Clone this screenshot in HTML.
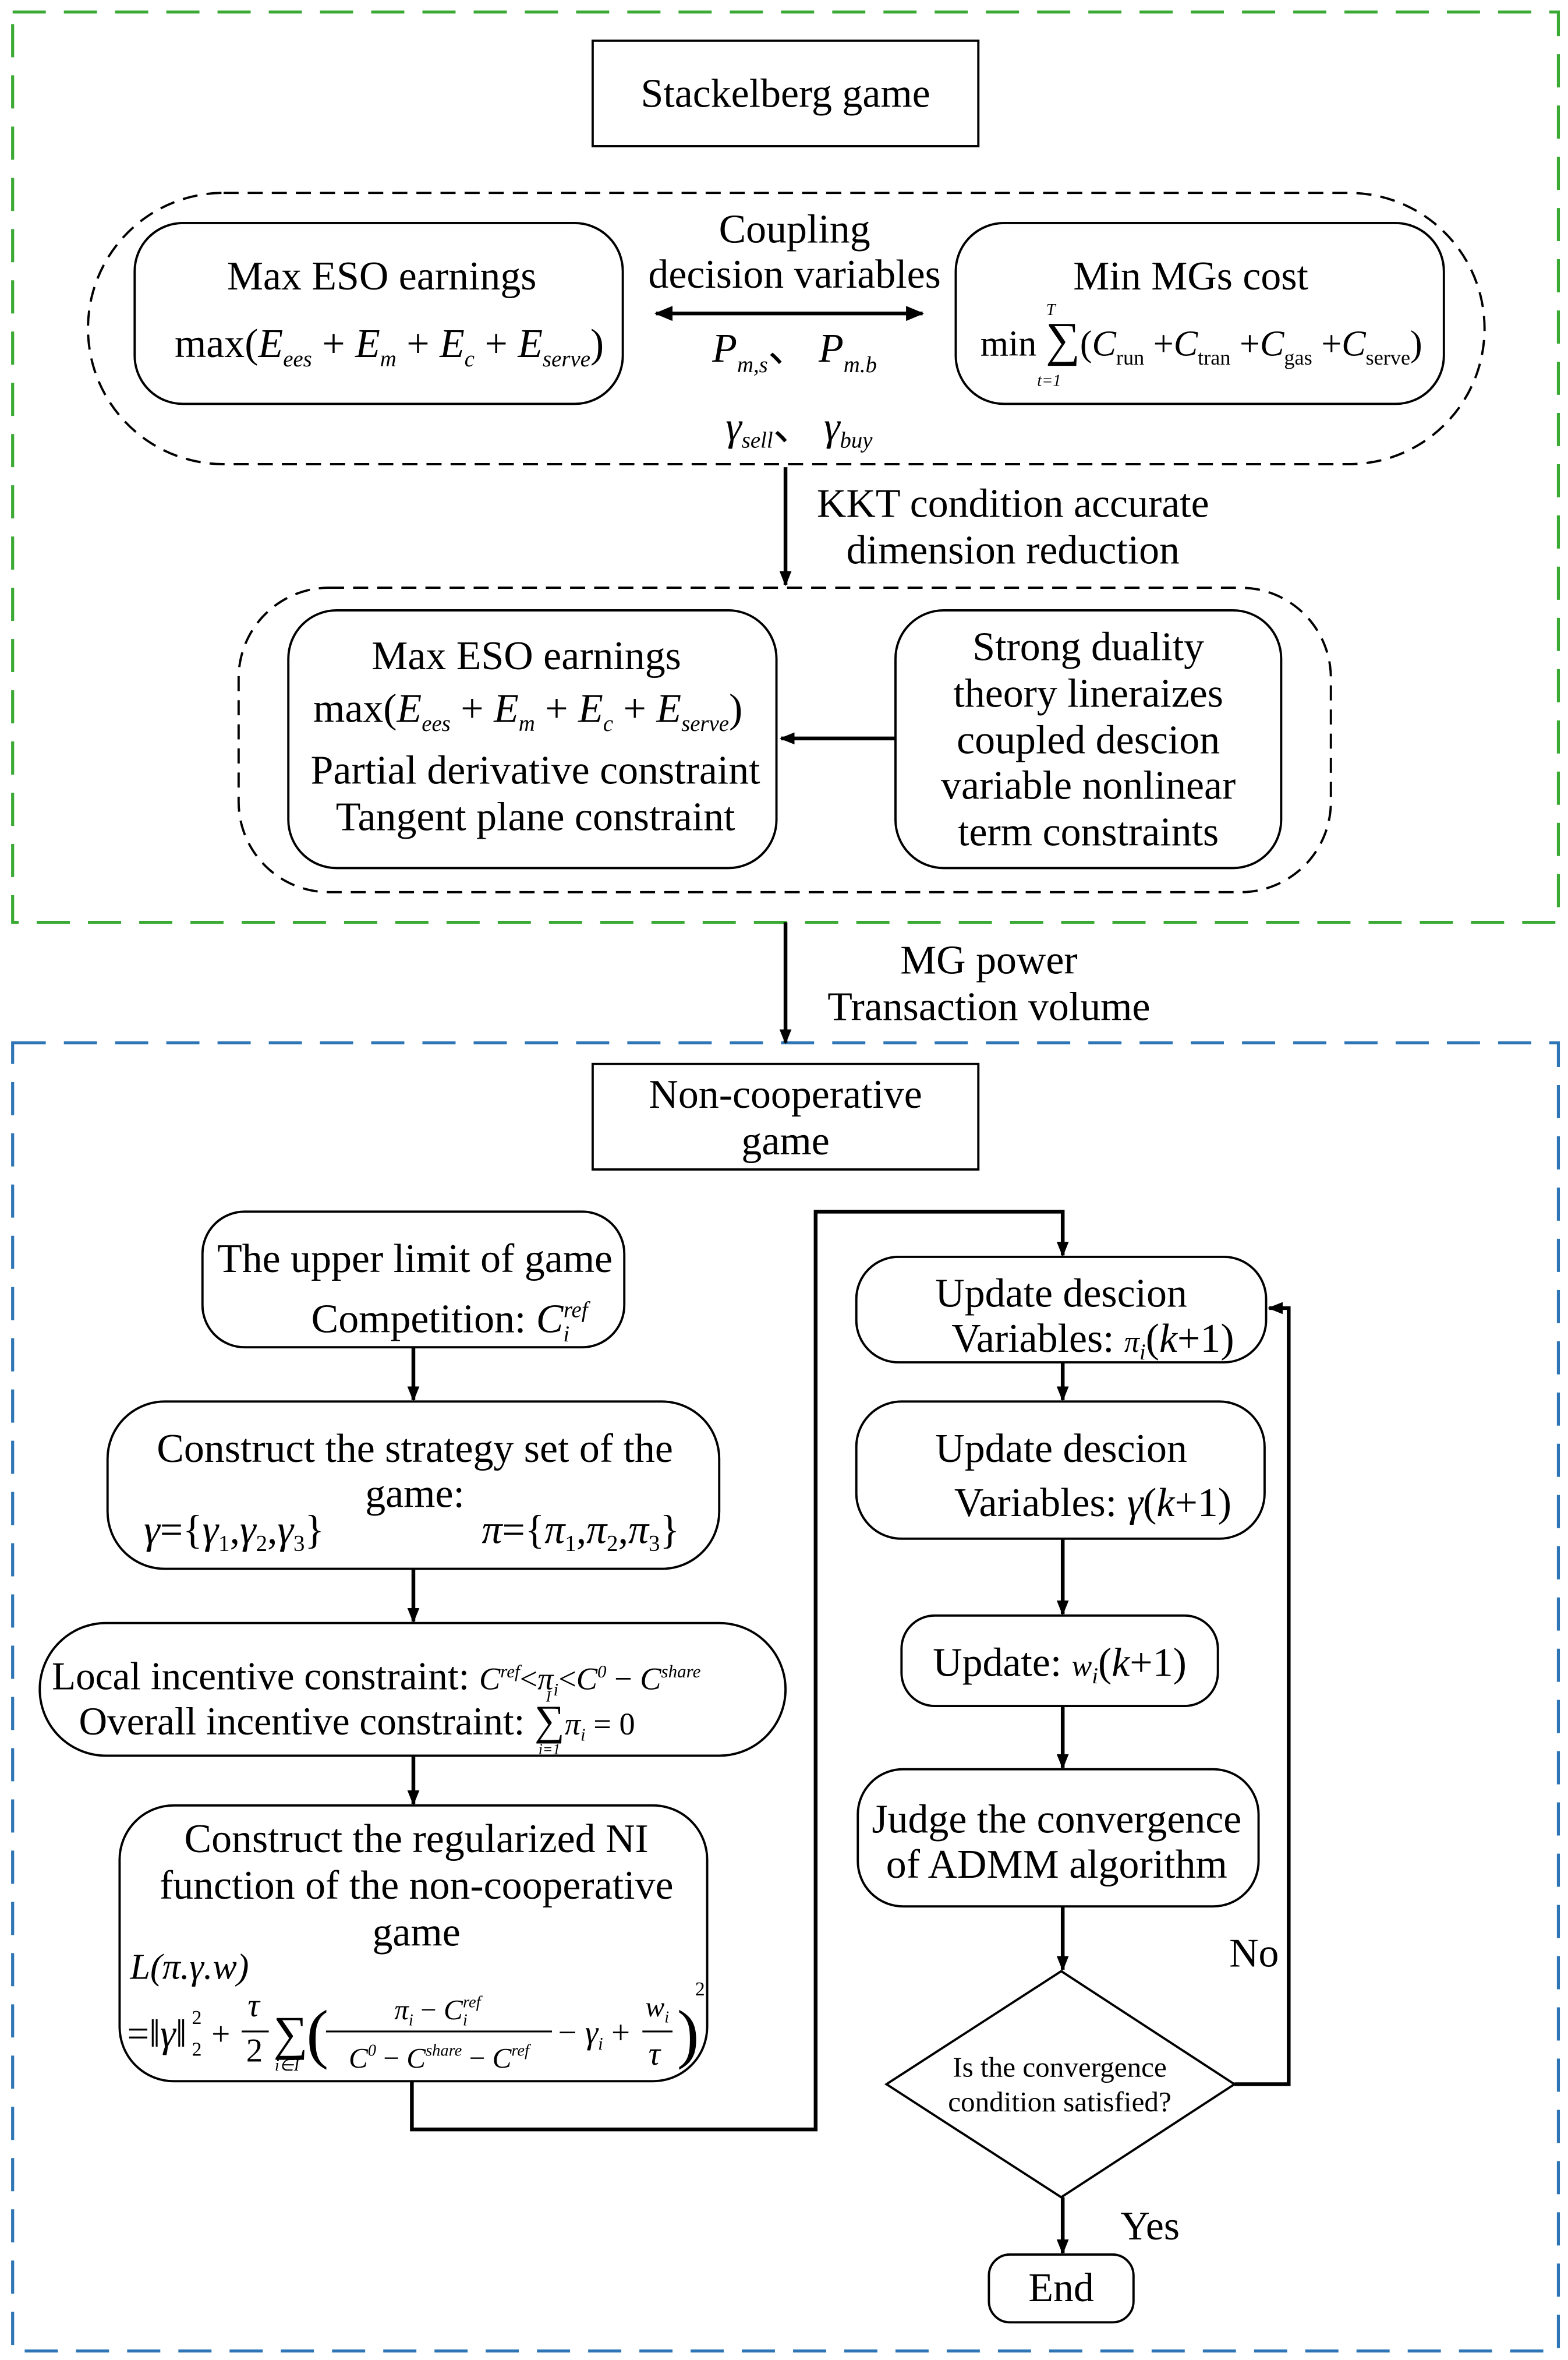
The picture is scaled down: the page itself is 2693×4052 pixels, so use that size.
<!DOCTYPE html>
<html><head><meta charset="utf-8"><style>
html,body{margin:0;padding:0;background:#fff;width:2693px;height:4052px;overflow:hidden}
svg{display:block}
text{font-family:"Liberation Serif",serif;fill:#000}
.t{font-size:27px;text-anchor:middle}
.i{font-style:italic}
.s{font-size:15px;font-style:italic}
</style></head><body>
<svg width="2693" height="4052" viewBox="0 0 1040 1566" xmlns="http://www.w3.org/2000/svg">
<defs><marker id="a" markerWidth="10" markerHeight="10" refX="9" refY="5" orient="auto" markerUnits="userSpaceOnUse"><path d="M0,1 L10,5 L0,9 z" fill="#000"/></marker>
<marker id="b" markerWidth="12" markerHeight="10" refX="11" refY="5" orient="auto-start-reverse" markerUnits="userSpaceOnUse"><path d="M0,0 L12,5 L0,10 z" fill="#000"/></marker></defs>
<g fill="none" stroke-width="2">
<rect x="8" y="8" width="1026" height="604" stroke="#3aaa35" stroke-dasharray="22,12"/>
<rect x="8" y="692" width="1026" height="868" stroke="#2e75b6" stroke-dasharray="22,12"/>
</g>
<g fill="none" stroke="#000" stroke-width="1.5">
<rect x="393" y="27" width="256" height="70"/>
<rect x="58" y="128" width="927" height="180" rx="90" stroke-dasharray="10,6"/>
<rect x="89" y="148" width="324" height="120" rx="32"/>
<rect x="634" y="148" width="324" height="120" rx="32"/>
<rect x="158" y="390" width="725" height="202" rx="60" stroke-dasharray="10,6"/>
<rect x="191" y="405" width="324" height="171" rx="32"/>
<rect x="594" y="405" width="256" height="171" rx="32"/>
<rect x="393" y="706" width="256" height="70"/>
<rect x="134" y="804" width="280" height="90" rx="28"/>
<rect x="71" y="930" width="406" height="111" rx="38"/>
<rect x="26" y="1077" width="495" height="88" rx="44"/>
<rect x="79" y="1198" width="390" height="183" rx="36"/>
<rect x="568" y="834" width="272" height="70" rx="28"/>
<rect x="568" y="930" width="271" height="91" rx="30"/>
<rect x="598" y="1072" width="210" height="60" rx="22"/>
<rect x="569" y="1174" width="266" height="91" rx="30"/>
<path d="M704,1308 L819,1383 L704,1458 L588,1383 Z"/>
<rect x="656" y="1496" width="96" height="45" rx="14"/>
</g>
<g fill="none" stroke="#000" stroke-width="2.5">
<line x1="435" y1="208" x2="612" y2="208" marker-start="url(#b)" marker-end="url(#b)"/>
<line x1="521" y1="310" x2="521" y2="388" marker-end="url(#a)"/>
<line x1="594" y1="490" x2="518" y2="490" marker-end="url(#a)"/>
<line x1="521" y1="612" x2="521" y2="692" marker-end="url(#a)"/>
<line x1="274" y1="894" x2="274" y2="929" marker-end="url(#a)"/>
<line x1="274" y1="1041" x2="274" y2="1076" marker-end="url(#a)"/>
<line x1="274" y1="1165" x2="274" y2="1197" marker-end="url(#a)"/>
<polyline points="273,1381 273,1413 541,1413 541,804 705,804 705,833" marker-end="url(#a)"/>
<line x1="705" y1="904" x2="705" y2="929" marker-end="url(#a)"/>
<line x1="705" y1="1021" x2="705" y2="1071" marker-end="url(#a)"/>
<line x1="705" y1="1132" x2="705" y2="1173" marker-end="url(#a)"/>
<line x1="705" y1="1265" x2="705" y2="1307" marker-end="url(#a)"/>
<polyline points="819,1383 855,1383 855,868 842,868" marker-end="url(#a)"/>
<line x1="705" y1="1458" x2="705" y2="1495" marker-end="url(#a)"/>
</g>
<text class="t" x="521" y="71">Stackelberg game</text>
<text class="t" x="253" y="192">Max ESO earnings</text>
<text class="t" x="258" y="237">max(<tspan class="i">E</tspan><tspan class="s" dy="6">ees</tspan><tspan dy="-6"> + </tspan><tspan class="i">E</tspan><tspan class="s" dy="6">m</tspan><tspan dy="-6"> + </tspan><tspan class="i">E</tspan><tspan class="s" dy="6">c</tspan><tspan dy="-6"> + </tspan><tspan class="i">E</tspan><tspan class="s" dy="6">serve</tspan><tspan dy="-6">)</tspan></text>
<text class="t" x="790" y="192">Min MGs cost</text>
<text x="797" y="236" font-size="24" text-anchor="middle">min <tspan font-size="32">∑</tspan>(<tspan class="i">C</tspan><tspan font-size="14" dy="6">run</tspan><tspan dy="-6"> +</tspan><tspan class="i">C</tspan><tspan font-size="14" dy="6">tran</tspan><tspan dy="-6"> +</tspan><tspan class="i">C</tspan><tspan font-size="14" dy="6">gas</tspan><tspan dy="-6"> +</tspan><tspan class="i">C</tspan><tspan font-size="14" dy="6">serve</tspan><tspan dy="-6">)</tspan></text>
<text x="694" y="209" font-size="11" font-style="italic">T</text>
<text x="688" y="256" font-size="11" font-style="italic">t=1</text>
<text class="t" x="527" y="161">Coupling</text>
<text class="t" x="527" y="191">decision variables</text>
<text x="527" y="240" font-size="27" text-anchor="middle"><tspan class="i">P</tspan><tspan class="s" dy="7">m,s</tspan><tspan dy="-7">、 </tspan><tspan class="i">P</tspan><tspan class="s" dy="7">m.b</tspan></text>
<text x="530" y="292" font-size="27" text-anchor="middle"><tspan class="i">γ</tspan><tspan class="s" dy="5">sell</tspan><tspan dy="-5">、 </tspan><tspan class="i">γ</tspan><tspan class="s" dy="5">buy</tspan></text>
<text class="t" x="672" y="343">KKT condition accurate</text>
<text class="t" x="672" y="374">dimension reduction</text>
<text class="t" x="349" y="444">Max ESO earnings</text>
<text class="t" x="350" y="479">max(<tspan class="i">E</tspan><tspan class="s" dy="6">ees</tspan><tspan dy="-6"> + </tspan><tspan class="i">E</tspan><tspan class="s" dy="6">m</tspan><tspan dy="-6"> + </tspan><tspan class="i">E</tspan><tspan class="s" dy="6">c</tspan><tspan dy="-6"> + </tspan><tspan class="i">E</tspan><tspan class="s" dy="6">serve</tspan><tspan dy="-6">)</tspan></text>
<text class="t" x="355" y="520">Partial derivative constraint</text>
<text class="t" x="355" y="551">Tangent plane constraint</text>
<text class="t" x="722" y="438">Strong duality</text>
<text class="t" x="722" y="469">theory lineraizes</text>
<text class="t" x="722" y="500">coupled descion</text>
<text class="t" x="722" y="530">variable nonlinear</text>
<text class="t" x="722" y="561">term constraints</text>
<text class="t" x="656" y="646">MG power</text>
<text class="t" x="656" y="677">Transaction volume</text>
<text class="t" x="521" y="735">Non-cooperative</text>
<text class="t" x="521" y="766">game</text>
<text class="t" x="275" y="844">The upper limit of game</text>
<text class="t" x="298" y="884">Competition: <tspan class="i">C</tspan><tspan class="s" dy="6">i</tspan><tspan class="s" dy="-16" dx="-4">ref</tspan></text>
<text class="t" x="275" y="970">Construct the strategy set of the</text>
<text class="t" x="275" y="1000">game:</text>
<text class="t" x="155" y="1024"><tspan class="i">γ</tspan>={<tspan class="i">γ</tspan><tspan font-size="15" dy="5">1</tspan><tspan dy="-5">,</tspan><tspan class="i">γ</tspan><tspan font-size="15" dy="5">2</tspan><tspan dy="-5">,</tspan><tspan class="i">γ</tspan><tspan font-size="15" dy="5">3</tspan><tspan dy="-5">}</tspan></text>
<text class="t" x="385" y="1024"><tspan class="i">π</tspan>={<tspan class="i">π</tspan><tspan font-size="15" dy="5">1</tspan><tspan dy="-5">,</tspan><tspan class="i">π</tspan><tspan font-size="15" dy="5">2</tspan><tspan dy="-5">,</tspan><tspan class="i">π</tspan><tspan font-size="15" dy="5">3</tspan><tspan dy="-5">}</tspan></text>
<text x="34" y="1121" font-size="26">Local incentive constraint: <tspan font-size="21" font-style="italic">C<tspan font-size="12" dy="-8">ref</tspan><tspan font-style="normal" dy="8">&lt;</tspan>π<tspan font-size="12" dy="4">i</tspan><tspan font-style="normal" dy="-4">&lt;</tspan>C<tspan font-size="12" dy="-8">0</tspan><tspan dy="8" font-style="normal"> − </tspan>C<tspan font-size="12" dy="-8">share</tspan></tspan></text>
<text x="52" y="1151" font-size="26">Overall incentive constraint: <tspan font-size="28">∑</tspan><tspan font-size="21" font-style="italic">π<tspan font-size="12" dy="4">i</tspan><tspan dy="-4" font-style="normal"> = 0</tspan></tspan></text>
<text x="362" y="1129" font-size="10" font-style="italic">I</text>
<text x="357" y="1164" font-size="10" font-style="italic">i=1</text>
<text class="t" x="276" y="1229">Construct the regularized NI</text>
<text class="t" x="276" y="1260">function of the non-cooperative</text>
<text class="t" x="276" y="1291">game</text>
<text x="86" y="1313" font-size="24" font-style="italic">L(π.γ.w)</text>
<g font-size="22">
<text x="84" y="1358" font-size="26">=‖<tspan font-style="italic">γ</tspan>‖</text>
<text x="127" y="1343" font-size="13">2</text>
<text x="127" y="1364" font-size="13">2</text>
<text x="140" y="1357">+</text>
<text x="164" y="1338" font-style="italic">τ</text>
<line x1="160" y1="1348" x2="178" y2="1348" stroke="#000" stroke-width="1.2"/>
<text x="163" y="1368">2</text>
<text x="181" y="1360" font-size="32">∑</text>
<text x="182" y="1374" font-size="11" font-style="italic">i∈I</text>
<text x="203" y="1364" font-size="44">(</text>
<text x="290" y="1340" text-anchor="middle" font-size="19" font-style="italic">π<tspan font-size="11" dy="4">i</tspan><tspan dy="-4" font-style="normal"> − </tspan>C<tspan font-size="11" dy="4">i</tspan><tspan font-size="11" dy="-12" dx="-3">ref</tspan></text>
<line x1="216" y1="1348" x2="366" y2="1348" stroke="#000" stroke-width="1.2"/>
<text x="291" y="1372" text-anchor="middle" font-size="19" font-style="italic">C<tspan font-size="11" dy="-8">0</tspan><tspan font-style="normal" dy="8"> − </tspan>C<tspan font-size="11" dy="-8">share</tspan><tspan font-style="normal" dy="8"> − </tspan>C<tspan font-size="11" dy="-8">ref</tspan></text>
<text x="370" y="1356">− <tspan font-style="italic">γ</tspan><tspan font-size="12" dy="4" font-style="italic">i</tspan><tspan dy="-4"> +</tspan></text>
<text x="428" y="1338" font-size="19" font-style="italic">w<tspan font-size="11" dy="4">i</tspan></text>
<line x1="426" y1="1348" x2="446" y2="1348" stroke="#000" stroke-width="1.2"/>
<text x="430" y="1370" font-style="italic">τ</text>
<text x="449" y="1364" font-size="44">)</text>
<text x="461" y="1324" font-size="13">2</text>
</g>
<text class="t" x="704" y="867">Update descion</text>
<text class="t" x="725" y="897">Variables: <tspan class="i" font-size="20">π</tspan><tspan class="s" dy="5">i</tspan><tspan dy="-5">(</tspan><tspan class="i">k</tspan>+1)</text>
<text class="t" x="704" y="970">Update descion</text>
<text class="t" x="725" y="1006">Variables: <tspan class="i">γ</tspan>(<tspan class="i">k</tspan>+1)</text>
<text class="t" x="703" y="1112">Update: <tspan class="i" font-size="20">w</tspan><tspan class="s" dy="5">i</tspan><tspan dy="-5">(</tspan><tspan class="i">k</tspan>+1)</text>
<text class="t" x="701" y="1216">Judge the convergence</text>
<text class="t" x="701" y="1246">of ADMM algorithm</text>
<text x="703" y="1378" font-size="19" text-anchor="middle">Is the convergence</text>
<text x="703" y="1401" font-size="19" text-anchor="middle">condition satisfied?</text>
<text class="t" x="832" y="1305">No</text>
<text class="t" x="763" y="1486">Yes</text>
<text class="t" x="704" y="1527">End</text>
</svg>
</body></html>
